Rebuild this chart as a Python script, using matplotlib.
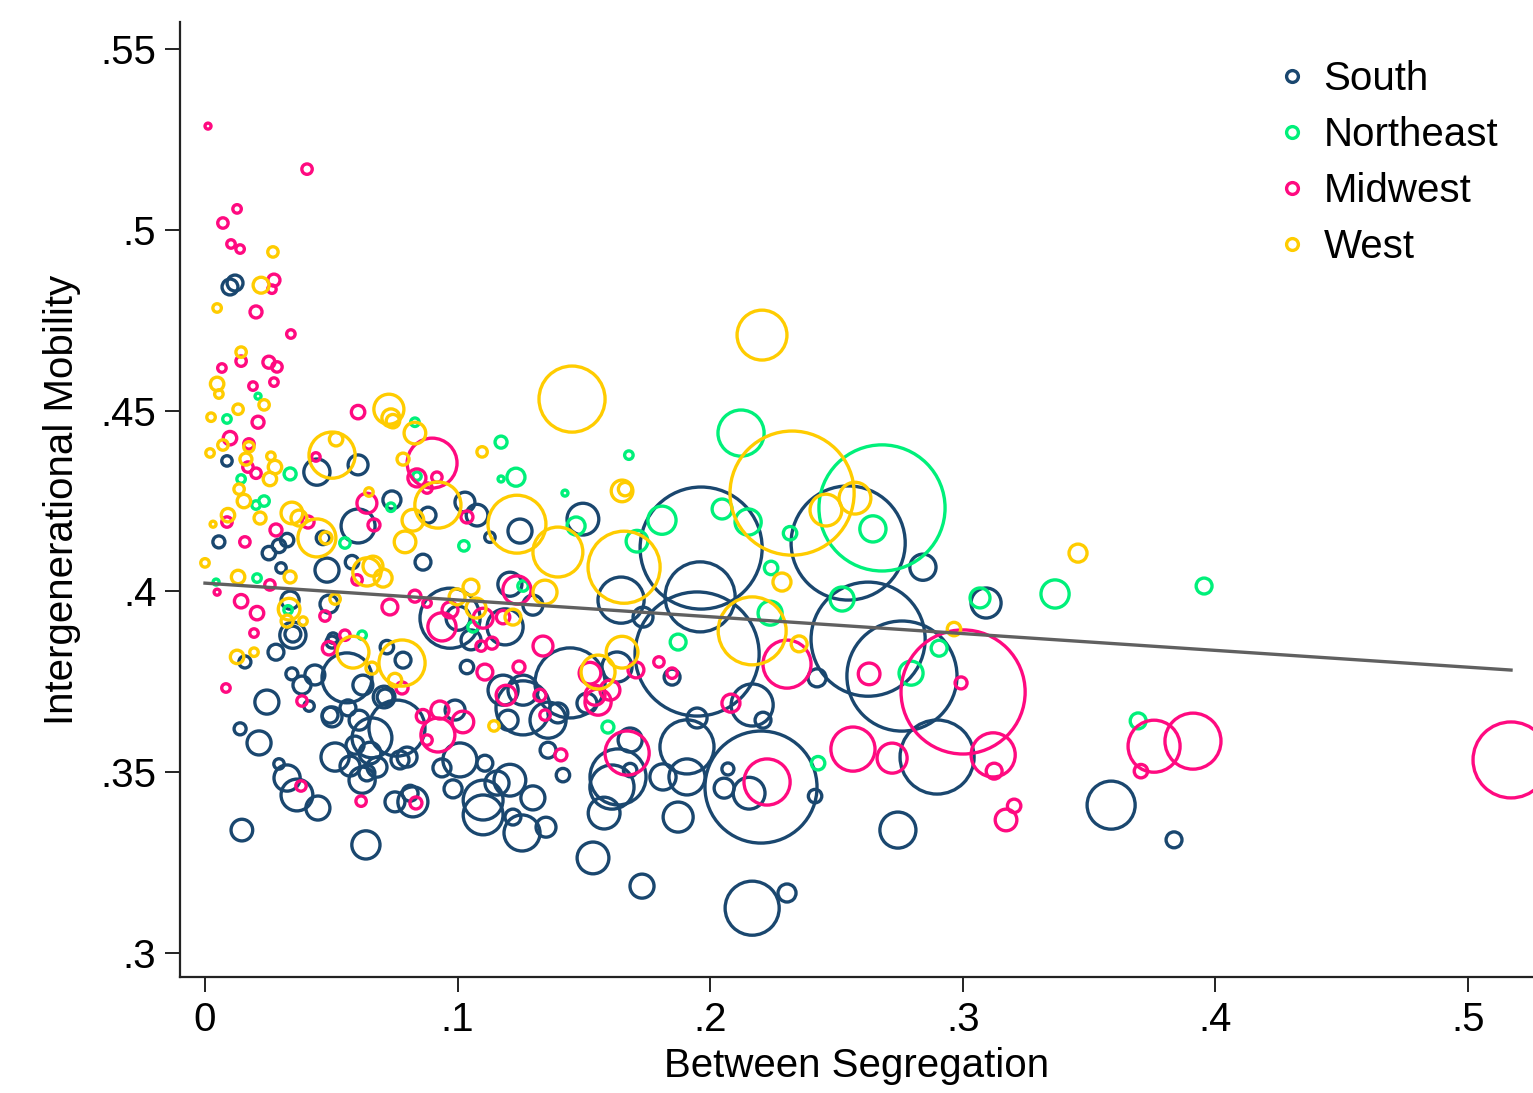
import numpy as np
import matplotlib
matplotlib.use("Agg")
import matplotlib.pyplot as plt
from matplotlib.lines import Line2D

plt.rcParams['font.family'] = ['Liberation Sans', 'DejaVu Sans']

# ---- data: between segregation (x), intergenerational mobility (y), population weight
south_x = [0.0099, 0.0119, 0.0087, 0.0443, 0.0606, 0.0740, 0.0606, 0.0467, 0.0325, 0.0293,
           0.0253, 0.0055, 0.0301, 0.0483, 0.0582, 0.0863, 0.0337, 0.0491, 0.0507, 0.0348,
           0.0348, 0.0503, 0.0720, 0.0784, 0.0158, 0.0281, 0.0562, 0.0435, 0.0344, 0.0384,
           0.0625, 0.0709, 0.0713, 0.0245, 0.0412, 0.0503, 0.0495, 0.0566, 0.0610, 0.0661,
           0.0760, 0.0139, 0.0214, 0.0293, 0.0325, 0.0364, 0.0447, 0.0515, 0.0594, 0.0574,
           0.0641, 0.0622, 0.0681, 0.0653, 0.0772, 0.0800, 0.0752, 0.0823, 0.0812, 0.0146,
           0.0637, 0.1029, 0.1077, 0.0883, 0.1247, 0.1496, 0.1128, 0.1964, 0.1647, 0.1734,
           0.1960, 0.1948, 0.1207, 0.1298, 0.0970, 0.1002, 0.1188, 0.1053, 0.1445, 0.1631,
           0.1037, 0.1259, 0.1180, 0.1259, 0.1358, 0.1397, 0.1200, 0.1358, 0.1417, 0.0990,
           0.1009, 0.0938, 0.0982, 0.1108, 0.1101, 0.1101, 0.1156, 0.1207, 0.1298, 0.1255,
           0.1350, 0.1219, 0.1683, 0.1635, 0.1611, 0.1580, 0.1683, 0.1536, 0.1730, 0.1813,
           0.1908, 0.1873, 0.1908, 0.1948, 0.1512, 0.1849, 0.2546, 0.2423, 0.2625, 0.2759,
           0.2842, 0.3092, 0.2898, 0.2743, 0.2201, 0.2154, 0.2055, 0.2070, 0.2415, 0.2209,
           0.2166, 0.2166, 0.2304, 0.3587, 0.3836]
south_y = [0.4842, 0.4853, 0.4361, 0.4330, 0.4350, 0.4253, 0.4181, 0.4148, 0.4142, 0.4126,
           0.4106, 0.4137, 0.4065, 0.4059, 0.4081, 0.4081, 0.3976, 0.3965, 0.3871, 0.3879,
           0.3882, 0.3860, 0.3846, 0.3810, 0.3805, 0.3832, 0.3761, 0.3769, 0.3772, 0.3741,
           0.3741, 0.3708, 0.3708, 0.3694, 0.3683, 0.3653, 0.3658, 0.3678, 0.3644, 0.3595,
           0.3622, 0.3620, 0.3581, 0.3523, 0.3484, 0.3437, 0.3401, 0.3542, 0.3575, 0.3517,
           0.3498, 0.3478, 0.3514, 0.3553, 0.3534, 0.3542, 0.3418, 0.3418, 0.3442, 0.3340,
           0.3299, 0.4247, 0.4211, 0.4211, 0.4167, 0.4200, 0.4150, 0.4120, 0.3976, 0.3929,
           0.3985, 0.3827, 0.4020, 0.3962, 0.3926, 0.3926, 0.3902, 0.3866, 0.3747, 0.3791,
           0.3791, 0.3678, 0.3727, 0.3727, 0.3644, 0.3664, 0.3644, 0.3561, 0.3492, 0.3672,
           0.3534, 0.3512, 0.3454, 0.3525, 0.3423, 0.3382, 0.3470, 0.3478, 0.3429, 0.3332,
           0.3348, 0.3376, 0.3589, 0.3487, 0.3459, 0.3387, 0.3506, 0.3263, 0.3185, 0.3487,
           0.3487, 0.3376, 0.3570, 0.3650, 0.3691, 0.3763, 0.4134, 0.3761, 0.3868, 0.3766,
           0.4067, 0.3968, 0.3542, 0.3340, 0.3459, 0.3442, 0.3456, 0.3509, 0.3434, 0.3644,
           0.3686, 0.3124, 0.3166, 0.3409, 0.3313]
south_pop = [7, 7, 3, 19, 11, 9, 32, 5, 5, 5,
             5, 4, 3, 16, 5, 7, 9, 9, 3, 19,
             7, 4, 5, 7, 4, 7, 69, 11, 4, 9,
             11, 13, 7, 16, 3, 11, 7, 7, 11, 44,
             87, 4, 16, 3, 19, 28, 16, 22, 9, 11,
             7, 19, 11, 13, 9, 11, 11, 25, 7, 13,
             22, 11, 13, 7, 16, 28, 3, 413, 59, 11,
             136, 427, 16, 11, 100, 16, 36, 11, 136, 25,
             5, 81, 25, 25, 36, 11, 11, 7, 5, 11,
             32, 9, 9, 7, 44, 44, 16, 28, 16, 36,
             11, 7, 16, 87, 54, 28, 5, 28, 16, 19,
             36, 25, 81, 11, 11, 7, 361, 9, 361, 336,
             19, 25, 152, 36, 348, 28, 11, 4, 5, 7,
             49, 81, 9, 64, 7]

northeast_x = [0.0210, 0.0087, 0.0831, 0.0143, 0.0337, 0.0202, 0.0234, 0.0736, 0.0554, 0.0206,
               0.0044, 0.0329, 0.0622, 0.0839, 0.1172, 0.1678, 0.1172, 0.1231, 0.1425, 0.1469,
               0.1025, 0.1809, 0.1710, 0.1259, 0.1061, 0.1873, 0.1595, 0.2122, 0.2680, 0.2644,
               0.2316, 0.2047, 0.2150, 0.2241, 0.2237, 0.2522, 0.2795, 0.2906, 0.3068, 0.2427,
               0.3365, 0.3955, 0.3694]
northeast_y = [0.4540, 0.4477, 0.4468, 0.4311, 0.4325, 0.4239, 0.4250, 0.4233, 0.4134, 0.4037,
               0.4026, 0.3949, 0.3879, 0.4319, 0.4413, 0.4377, 0.4311, 0.4316, 0.4272, 0.4181,
               0.4126, 0.4197, 0.4139, 0.4015, 0.3902, 0.3860, 0.3625, 0.4438, 0.4231, 0.4173,
               0.4161, 0.4228, 0.4192, 0.4065, 0.3940, 0.3979, 0.3774, 0.3843, 0.3982, 0.3525,
               0.3993, 0.4015, 0.3642]
northeast_pop = [1, 2, 2, 2, 4, 2, 3, 2, 3, 2,
                 1, 2, 2, 2, 4, 2, 1, 9, 1, 9,
                 3, 22, 13, 3, 3, 7, 4, 59, 441, 19,
                 5, 11, 19, 5, 16, 16, 16, 7, 11, 5,
                 22, 7, 7]

midwest_x = [0.0012, 0.0404, 0.0127, 0.0071, 0.0103, 0.0139, 0.0273, 0.0265, 0.0202, 0.0340,
             0.0143, 0.0253, 0.0285, 0.0067, 0.0190, 0.0273, 0.0210, 0.0606, 0.0099, 0.0174,
             0.0170, 0.0202, 0.0439, 0.0641, 0.0087, 0.0408, 0.0669, 0.0281, 0.0158, 0.0602,
             0.0048, 0.0257, 0.0143, 0.0206, 0.0475, 0.0732, 0.0831, 0.0879, 0.0194, 0.0554,
             0.0491, 0.0780, 0.0083, 0.0384, 0.0863, 0.0380, 0.0618, 0.0835, 0.0899, 0.0918,
             0.0879, 0.0839, 0.1037, 0.1235, 0.0938, 0.0970, 0.1101, 0.1180, 0.1093, 0.1136,
             0.1338, 0.1524, 0.1797, 0.1849, 0.1108, 0.1243, 0.1706, 0.1192, 0.1346, 0.1326,
             0.1409, 0.0922, 0.0930, 0.1021, 0.0879, 0.1671, 0.1556, 0.1544, 0.1603, 0.2304,
             0.2629, 0.3001, 0.2993, 0.3120, 0.3124, 0.2565, 0.2720, 0.2225, 0.2082, 0.3171,
             0.3203, 0.3757, 0.3911, 0.3705, 0.5170]
midwest_y = [0.5287, 0.5168, 0.5058, 0.5019, 0.4961, 0.4947, 0.4861, 0.4836, 0.4773, 0.4712,
             0.4637, 0.4634, 0.4621, 0.4618, 0.4568, 0.4579, 0.4468, 0.4496, 0.4424, 0.4408,
             0.4344, 0.4327, 0.4372, 0.4244, 0.4192, 0.4192, 0.4184, 0.4170, 0.4137, 0.4032,
             0.3998, 0.4018, 0.3973, 0.3940, 0.3932, 0.3957, 0.3987, 0.3968, 0.3885, 0.3879,
             0.3843, 0.3733, 0.3733, 0.3697, 0.3655, 0.3462, 0.3420, 0.3415, 0.4355, 0.4316,
             0.4286, 0.4314, 0.4206, 0.4004, 0.3902, 0.3949, 0.3926, 0.3929, 0.3849, 0.3857,
             0.3849, 0.3774, 0.3805, 0.3774, 0.3777, 0.3791, 0.3783, 0.3713, 0.3658, 0.3713,
             0.3548, 0.3603, 0.3672, 0.3639, 0.3589, 0.3553, 0.3694, 0.3713, 0.3727, 0.3799,
             0.3772, 0.3722, 0.3747, 0.3548, 0.3503, 0.3564, 0.3539, 0.3473, 0.3691, 0.3368,
             0.3407, 0.3572, 0.3586, 0.3503, 0.3534]
midwest_pop = [1, 3, 2, 3, 2, 2, 4, 2, 4, 2,
               3, 4, 3, 2, 2, 2, 4, 5, 5, 3,
               3, 3, 2, 11, 3, 4, 4, 4, 3, 3,
               1, 3, 5, 5, 3, 7, 4, 2, 2, 3,
               5, 4, 2, 3, 5, 3, 3, 4, 69, 3,
               3, 9, 4, 22, 22, 7, 11, 5, 3, 4,
               11, 13, 3, 3, 7, 4, 7, 11, 3, 4,
               4, 32, 9, 13, 3, 54, 19, 11, 11, 64,
               13, 427, 4, 54, 7, 54, 25, 59, 9, 13,
               5, 75, 87, 5, 160]

west_x = [0.0269, 0.0222, 0.0048, 0.0143, 0.0048, 0.0055, 0.0131, 0.0234, 0.0024, 0.0728,
          0.0736, 0.0744, 0.0831, 0.0071, 0.0174, 0.0020, 0.0162, 0.0261, 0.0277, 0.0257,
          0.0503, 0.0519, 0.0135, 0.0154, 0.0649, 0.0091, 0.0032, 0.0218, 0.0344, 0.0372,
          0.0443, 0.0479, 0.0641, 0.0665, 0.0705, 0.0000, 0.0131, 0.0337, 0.0333, 0.0325,
          0.0388, 0.0515, 0.0586, 0.0780, 0.0661, 0.0752, 0.0127, 0.0194, 0.1453, 0.1097,
          0.1651, 0.1663, 0.0922, 0.1235, 0.1397, 0.1659, 0.1346, 0.1053, 0.0998, 0.1073,
          0.1219, 0.1651, 0.1556, 0.1144, 0.2205, 0.0784, 0.0823, 0.0792, 0.2324, 0.2458,
          0.2573, 0.2284, 0.2166, 0.2352, 0.2965, 0.3456]
west_y = [0.4939, 0.4847, 0.4784, 0.4662, 0.4574, 0.4546, 0.4504, 0.4516, 0.4482, 0.4504,
          0.4480, 0.4471, 0.4438, 0.4405, 0.4400, 0.4383, 0.4366, 0.4374, 0.4344, 0.4311,
          0.4377, 0.4421, 0.4283, 0.4250, 0.4275, 0.4211, 0.4186, 0.4203, 0.4217, 0.4203,
          0.4148, 0.4148, 0.4054, 0.4070, 0.4037, 0.4079, 0.4040, 0.4040, 0.3951, 0.3918,
          0.3918, 0.3979, 0.3832, 0.3802, 0.3788, 0.3755, 0.3819, 0.3832, 0.4532, 0.4386,
          0.4278, 0.4283, 0.4239, 0.4186, 0.4109, 0.4067, 0.3998, 0.4012, 0.3985, 0.3954,
          0.3929, 0.3832, 0.3777, 0.3628, 0.4709, 0.4366, 0.4197, 0.4137, 0.4272, 0.4225,
          0.4258, 0.4026, 0.3891, 0.3855, 0.3896, 0.4106]
west_pop = [3, 7, 2, 3, 5, 2, 3, 3, 2, 25,
            9, 5, 13, 3, 3, 2, 4, 2, 5, 5,
            59, 5, 3, 5, 2, 5, 1, 4, 13, 7,
            40, 4, 22, 11, 9, 2, 5, 4, 13, 4,
            2, 3, 28, 59, 4, 5, 5, 2, 121, 3,
            13, 5, 59, 93, 69, 144, 16, 7, 7, 11,
            7, 28, 32, 3, 69, 4, 13, 13, 427, 28,
            28, 9, 128, 7, 5, 9]

# linear fit
fit_intercept = 0.4023
fit_slope = -0.0465

regions = [
    ("South", south_x, south_y, south_pop, "#1a476f"),
    ("Northeast", northeast_x, northeast_y, northeast_pop, "#00f07a"),
    ("Midwest", midwest_x, midwest_y, midwest_pop, "#ff0a80"),
    ("West", west_x, west_y, west_pop, "#ffcc00"),
]

fig = plt.figure(figsize=(15.33, 10.93), dpi=100)
ax = fig.add_axes([0.1174, 0.1061, 0.8826, 0.8737])

size_scale = 18.7
for name, xs, ys, pop, col in regions:
    ax.scatter(xs, ys, s=np.array(pop) * size_scale, facecolors="none",
               edgecolors=col, linewidths=2.4, zorder=2, clip_on=False)

all_x = np.concatenate([r[1] for r in regions])
xf = np.array([0, all_x.max()])
ax.plot(xf, fit_intercept + fit_slope * xf, color="#606060", lw=2.4, zorder=3)

ax.set_xlim(-0.0099, 0.5257)
ax.set_ylim(0.29336, 0.55747)
ax.set_xticks([0, .1, .2, .3, .4, .5])
ax.set_xticklabels(["0", ".1", ".2", ".3", ".4", ".5"])
ax.set_yticks([.3, .35, .4, .45, .5, .55])
ax.set_yticklabels([".3", ".35", ".4", ".45", ".5", ".55"])
ax.tick_params(labelsize=29, length=11, width=1.4, direction="out", pad=6, color="#222222")
for s in ["top", "right"]:
    ax.spines[s].set_visible(False)
for s in ["left", "bottom"]:
    ax.spines[s].set_linewidth(1.6)
    ax.spines[s].set_color("#222222")

ax.set_xlabel("Between Segregation", fontsize=29, labelpad=6)
ax.set_ylabel("Intergenerational Mobility", fontsize=29, labelpad=14)

handles = [Line2D([], [], ls="none", marker="o", markersize=8.5, markerfacecolor="none",
                  markeredgecolor=r[4], markeredgewidth=2.4) for r in regions]
fig.legend(handles, [r[0] for r in regions], loc="upper left",
           bbox_to_anchor=(1280 / 1533, 1 - 60 / 1093), frameon=False, fontsize=29,
           handlelength=0.6, handletextpad=0.48, labelspacing=0.45, borderpad=0,
           borderaxespad=0)

fig.savefig("out.png", dpi=100)
